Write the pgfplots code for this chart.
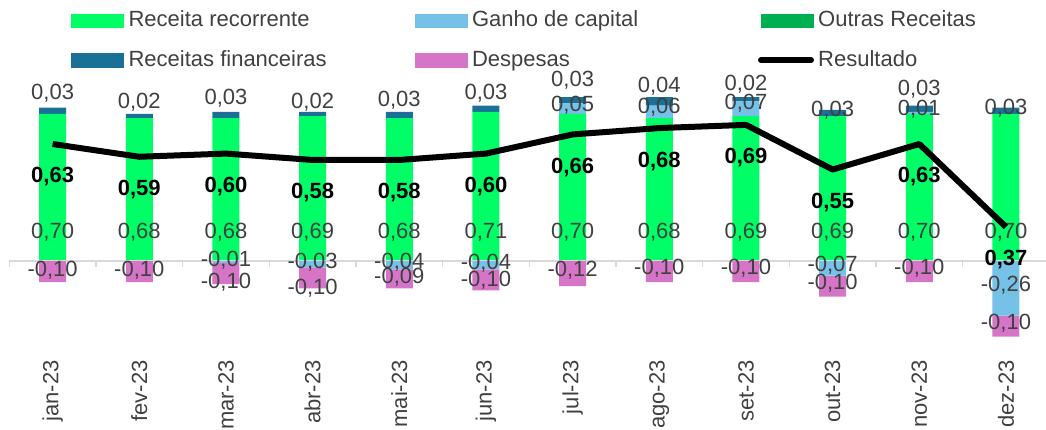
\documentclass[border=0pt]{standalone}
\usepackage{pgfplots}
\pgfplotsset{compat=1.18}
\usepackage{pgfplotstable}
\usepackage{fontspec}
\setmainfont{Liberation Sans}

\definecolor{crec}{HTML}{00FF66}
\definecolor{cgan}{HTML}{75C1E7}
\definecolor{cout}{HTML}{00B050}
\definecolor{cfin}{HTML}{1B7098}
\definecolor{cdes}{HTML}{D675C7}
\definecolor{ctxt}{HTML}{404040}
\definecolor{cgrid}{HTML}{D9D9D9}
\newcommand\fs{\fontsize{22}{26}\selectfont}

% positive components
\pgfplotstableread[row sep=\\]{
x rec gpos outr fin\\
0 0.70 0 0 0.03\\
1 0.68 0 0 0.02\\
2 0.68 0 0 0.03\\
3 0.69 0 0 0.02\\
4 0.68 0 0 0.03\\
5 0.71 0 0 0.03\\
6 0.70 0.05 0 0.03\\
7 0.68 0.06 0 0.04\\
8 0.69 0.07 0 0.02\\
9 0.69 0 0 0.03\\
10 0.70 0.01 0 0.03\\
11 0.70 0 0 0.03\\
}\tpos

% negative components
\pgfplotstableread[row sep=\\]{
x gneg desp\\
0 0 -0.10\\
1 0 -0.10\\
2 -0.01 -0.10\\
3 -0.03 -0.10\\
4 -0.04 -0.09\\
5 -0.04 -0.10\\
6 0 -0.12\\
7 0 -0.10\\
8 0 -0.10\\
9 -0.07 -0.10\\
10 0 -0.10\\
11 -0.26 -0.10\\
}\tneg

% resultado
\pgfplotstableread[row sep=\\]{
x res\\
0 0.63\\
1 0.59\\
2 0.60\\
3 0.58\\
4 0.58\\
5 0.60\\
6 0.66\\
7 0.68\\
8 0.69\\
9 0.55\\
10 0.63\\
11 0.37\\
}\tres

% data label positions (y) and values (v)
\pgfplotstableread[row sep=\\]{
x y v\\
0 0.138 0.70\\
1 0.138 0.68\\
2 0.138 0.68\\
3 0.138 0.69\\
4 0.138 0.68\\
5 0.138 0.71\\
6 0.138 0.70\\
7 0.138 0.68\\
8 0.138 0.69\\
9 0.138 0.69\\
10 0.138 0.70\\
11 0.138 0.70\\
0 0.800 0.03\\
1 0.757 0.02\\
2 0.776 0.03\\
3 0.757 0.02\\
4 0.767 0.03\\
5 0.800 0.03\\
6 0.862 0.03\\
7 0.833 0.04\\
8 0.843 0.02\\
9 0.719 0.03\\
10 0.819 0.03\\
11 0.729 0.03\\
6 0.743 0.05\\
7 0.733 0.06\\
8 0.752 0.07\\
10 0.724 0.01\\
0 -0.043 -0.10\\
1 -0.043 -0.10\\
2 0.005 -0.01\\
2 -0.100 -0.10\\
3 -0.005 -0.03\\
3 -0.129 -0.10\\
4 -0.005 -0.04\\
4 -0.076 -0.09\\
5 -0.010 -0.04\\
5 -0.090 -0.10\\
6 -0.043 -0.12\\
7 -0.033 -0.10\\
8 -0.033 -0.10\\
9 -0.019 -0.07\\
9 -0.105 -0.10\\
10 -0.033 -0.10\\
11 -0.114 -0.26\\
11 -0.295 -0.10\\
}\tlab

\pgfplotsset{
  base/.style={scale only axis, width=1040pt, height=280pt,
    at={(9.3pt,79pt)}, anchor=south west, xmin=-0.5, xmax=11.5,
    axis line style={draw=none}, tick style={draw=none},
    xtick=\empty, ytick=\empty, clip=false,
    /pgf/number format/assume math mode=true},
  fmt/.style={nodes near coords={\pgfmathprintnumber[fixed,fixed zerofill,precision=2,use comma]{\pgfplotspointmeta}}},
}

\begin{document}
\begin{tikzpicture}
% positive stacked bars
\begin{axis}[base, ymin=-0.4238, ymax=0.9095, ybar stacked, bar width=27pt,
  xtick={0,...,11},
  xticklabels={jan-23,fev-23,mar-23,abr-23,mai-23,jun-23,jul-23,ago-23,set-23,out-23,nov-23,dez-23},
  xticklabel style={rotate=90, anchor=east, inner sep=0pt, font=\fs, text=ctxt},
  xticklabel shift=10pt]
\draw[cgrid, line width=2pt] (axis cs:-0.5,0) -- (axis cs:11.5,0);
\pgfplotsinvokeforeach{-0.5,0.5,...,11.5}{\draw[cgrid, line width=1.5pt] (axis cs:#1,0) -- ++(0pt,-6pt);}
\addplot[fill=crec, draw=none] table[x=x,y=rec]{\tpos};
\addplot[fill=cgan, draw=none] table[x=x,y=gpos]{\tpos};
\addplot[fill=cout, draw=none] table[x=x,y=outr]{\tpos};
\addplot[fill=cfin, draw=none] table[x=x,y=fin]{\tpos};
\end{axis}
% negative stacked bars
\begin{axis}[base, ymin=-0.4238, ymax=0.9095, ybar stacked, bar width=27pt]
\addplot[fill=cgan, draw=none] table[x=x,y=gneg]{\tneg};
\addplot[fill=cdes, draw=none] table[x=x,y=desp]{\tneg};
\end{axis}
% data labels of bars
\begin{axis}[base, ymin=-0.4238, ymax=0.9095]
\addplot[draw=none, mark=none, fmt, point meta=explicit,
  nodes near coords style={font=\fs, text=ctxt, anchor=center}]
  table[x=x,y=y,meta=v]{\tlab};
\end{axis}
% resultado line (secondary scale) + legend
\begin{axis}[base, ymin=-0.01567, ymax=0.862,
  legend columns=3, legend cell align=left,
  legend style={at={(axis description cs:0.05644,1.2214)}, anchor=north west,
    draw=none, fill=none, font=\fs, text=ctxt, row sep=20pt,
    nodes={inner sep=0pt, text height=16pt, text depth=4pt}}]
\addlegendimage{legend image code/.code={\fill[crec] (0pt,-6.5pt) rectangle (52pt,6.5pt); \path (57pt,0pt);}}
\addlegendentry{\makebox[286pt][l]{Receita recorrente}}
\addlegendimage{legend image code/.code={\fill[cgan] (0pt,-6.5pt) rectangle (52pt,6.5pt); \path (57pt,0pt);}}
\addlegendentry{\makebox[286pt][l]{Ganho de capital}}
\addlegendimage{legend image code/.code={\fill[cout] (0pt,-6.5pt) rectangle (52pt,6.5pt); \path (57pt,0pt);}}
\addlegendentry{Outras Receitas}
\addlegendimage{legend image code/.code={\fill[cfin] (0pt,-6.5pt) rectangle (52pt,6.5pt); \path (57pt,0pt);}}
\addlegendentry{\makebox[286pt][l]{Receitas financeiras}}
\addlegendimage{legend image code/.code={\fill[cdes] (0pt,-6.5pt) rectangle (52pt,6.5pt); \path (57pt,0pt);}}
\addlegendentry{\makebox[286pt][l]{Despesas}}
\addlegendimage{legend image code/.code={\draw[black, line width=6pt, line cap=round] (0pt,0pt) -- (50pt,0pt); \path (57pt,0pt);}}
\addlegendentry{Resultado}
\addplot[black, line width=6pt, line join=round, mark=none, forget plot, fmt, point meta=explicit,
  nodes near coords style={font=\bfseries\fs, text=black, anchor=center, yshift=-33pt}]
  table[x=x,y=res,meta=res]{\tres};
\end{axis}
\pgfresetboundingbox
\path[use as bounding box] (0pt,0pt) rectangle (1046pt,429pt);
\end{tikzpicture}
\end{document}
